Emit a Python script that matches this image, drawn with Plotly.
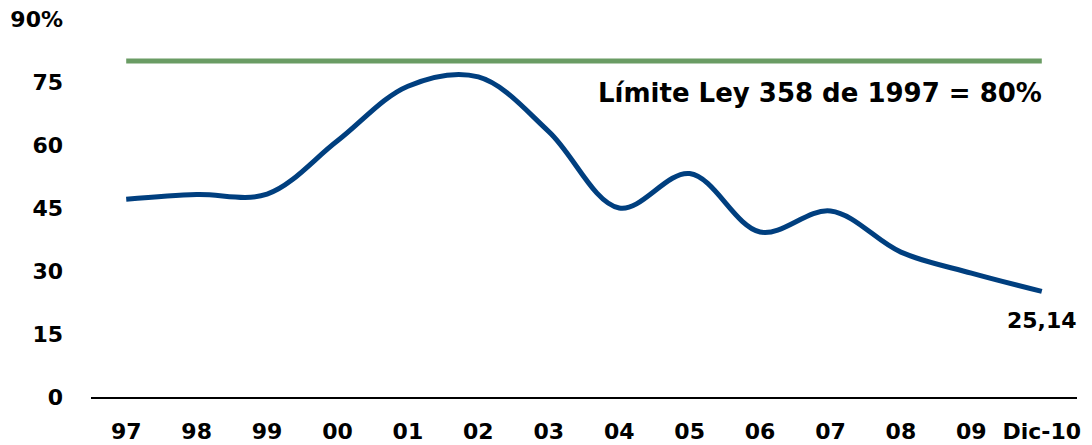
import plotly.graph_objects as go

categories = ["97", "98", "99", "00", "01", "02", "03", "04", "05", "06", "07", "08", "09", "Dic-10"]
deuda = [47.1, 48.2, 48.3, 61.0, 74.0, 76.2, 63.2, 45.0, 53.2, 39.3, 44.3, 34.5, 29.5, 25.14]
limite = [80] * len(categories)
limite_label = "Límite Ley 358 de 1997 = 80%"
y_ticks = [0, 15, 30, 45, 60, 75, 90]
y_ticktext = ["0", "15", "30", "45", "60", "75", "90%"]

FONT = "DejaVu Sans"

fig = go.Figure()
fig.add_trace(go.Scatter(x=categories, y=limite, mode="lines",
                         line=dict(color="#6a9c64", width=5), hoverinfo="skip"))
fig.add_trace(go.Scatter(x=categories, y=deuda, mode="lines",
                         line=dict(color="#003f7f", width=5, shape="spline", smoothing=1)))

fig.add_annotation(x=categories[-1], y=72.4, text="<b>" + limite_label + "</b>",
                   showarrow=False, xanchor="right", yanchor="middle", xshift=2,
                   font=dict(family=FONT, size=26, color="black"))
fig.add_annotation(x=categories[-1], y=deuda[-1],
                   text="<b>" + f"{deuda[-1]:.2f}".replace(".", ",") + "</b>",
                   showarrow=False, xanchor="center", yanchor="middle", yshift=-29,
                   font=dict(family=FONT, size=22, color="black"))

fig.update_layout(
    width=1092, height=445,
    margin=dict(l=91, r=15, t=19, b=48),
    paper_bgcolor="white", plot_bgcolor="white",
    showlegend=False,
    font=dict(family=FONT, size=22, color="black"),
)
fig.update_xaxes(type="category", range=[-0.5, len(categories) - 0.5],
                 showline=True, linecolor="black", linewidth=1.5,
                 showgrid=False, zeroline=False, ticks="", ticklen=0,
                 tickfont=dict(family=FONT, size=22, color="black"),
                 ticklabelstandoff=14, automargin=False,
                 tickvals=categories, ticktext=["<b>%s</b>" % c for c in categories])
fig.update_yaxes(range=[0, 90], tickvals=y_ticks, ticktext=["<b>%s</b>" % t for t in y_ticktext],
                 showline=False, showgrid=False, zeroline=False, ticks="",
                 tickfont=dict(family=FONT, size=22, color="black"),
                 ticklabelstandoff=27, automargin=False)

fig.write_html("out.html")
